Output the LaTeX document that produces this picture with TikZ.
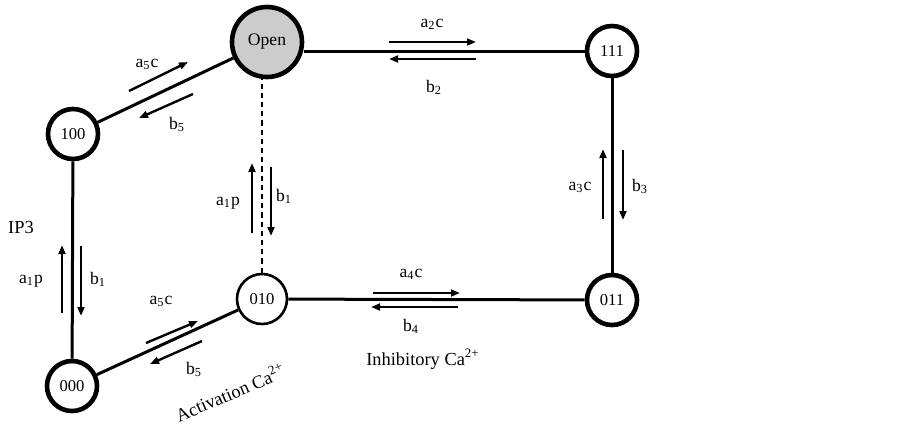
\documentclass[tikz,border=0pt]{standalone}
\usepackage{fontspec}
\setmainfont{Liberation Serif}
\usetikzlibrary{arrows.meta}
\tikzset{state/.style={circle,draw,line width=2.3pt,minimum size=25pt,inner sep=0pt,font=\fontsize{8.3}{9}\selectfont},
         thinstate/.style={state,line width=1.3pt},
         link/.style={line width=1.5pt},
         rate/.style={line width=1.2pt,-{Triangle[length=4.5pt,width=3.4pt]}},
         lbl/.style={font=\fontsize{8.8}{10}\selectfont,inner sep=0pt},
         tag/.style={font=\fontsize{9.2}{11}\selectfont,inner sep=0pt}}

\begin{document}
\begin{tikzpicture}[x=0.5pt,y=-0.5pt]
    \useasboundingbox (0,0) rectangle (903,425);
    % states
    \node[state,fill=black!20,minimum size=35pt,font=\fontsize{8.8}{10}\selectfont] (open) at (267,42) {Open};
    \node[state] (s100) at (73,134) {100};
    \node[state] (s000) at (72,386) {000};
    \node[thinstate] (s010) at (262,299) {010};
    \node[state] (s111) at (612,51) {111};
    \node[state] (s011) at (612,300) {011};
    % transitions
    \draw[link] (s100) -- (open);
    \draw[link] (s111) -- (s111 -| open.east);
    \draw[link] (s111) -- (s011);
    \draw[link] (s010) -- (s011);
    \draw[link] (s000) -- (s010);
    \draw[link] (s100) -- (s000);
    \draw[line width=1pt,dash pattern=on 2.6pt off 2pt] (s010) -- (s010 |- open.south);
    % rate arrows
    \draw[rate] (129,91) -- (188,62);
    \draw[rate] (193,94) -- (139,118);
    \draw[rate] (389,42) -- (476,42);
    \draw[rate] (476,59) -- (389,59);
    \draw[rate] (252,233) -- (252,163);
    \draw[rate] (271,167) -- (271,236);
    \draw[rate] (603,219) -- (603,149);
    \draw[rate] (623,150) -- (623,220);
    \draw[rate] (62,313) -- (62,245);
    \draw[rate] (81,246) -- (81,316);
    \draw[rate] (146,343) -- (198,321);
    \draw[rate] (202,341) -- (150,364);
    \draw[rate] (373,293) -- (460,293);
    \draw[rate] (458,307) -- (371,307);
    % rate labels
    \node[lbl] (a5top) at (147,64) {a\textsubscript{5}c};
    \node[lbl] (b5top) at (177,124) {b\textsubscript{5}};
    \node[lbl] (a2) at (432,24) {a\textsubscript{2}c};
    \node[lbl] (b2) at (434,87) {b\textsubscript{2}};
    \node[lbl] (a1mid) at (228,203) {a\textsubscript{1}p};
    \node[lbl] (b1mid) at (284,196) {b\textsubscript{1}};
    \node[lbl] (a3) at (580,187) {a\textsubscript{3}c};
    \node[lbl] (b3) at (640,186) {b\textsubscript{3}};
    \node[lbl] (a1left) at (31,281) {a\textsubscript{1}p};
    \node[lbl] (b1left) at (98,279) {b\textsubscript{1}};
    \node[lbl] (a5low) at (161,301) {a\textsubscript{5}c};
    \node[lbl] (b5low) at (194,369) {b\textsubscript{5}};
    \node[lbl] (a4) at (411,274) {a\textsubscript{4}c};
    \node[lbl] (b4) at (411,326) {b\textsubscript{4}};
    % ligands
    \node[tag] (ip3) at (21,227) {IP3};
    \node[tag,rotate=23] (act) at (230,392) {Activation Ca\textsuperscript{2+}};
    \node[tag] (inh) at (423,359) {Inhibitory Ca\textsuperscript{2+}};
\end{tikzpicture}
\end{document}
